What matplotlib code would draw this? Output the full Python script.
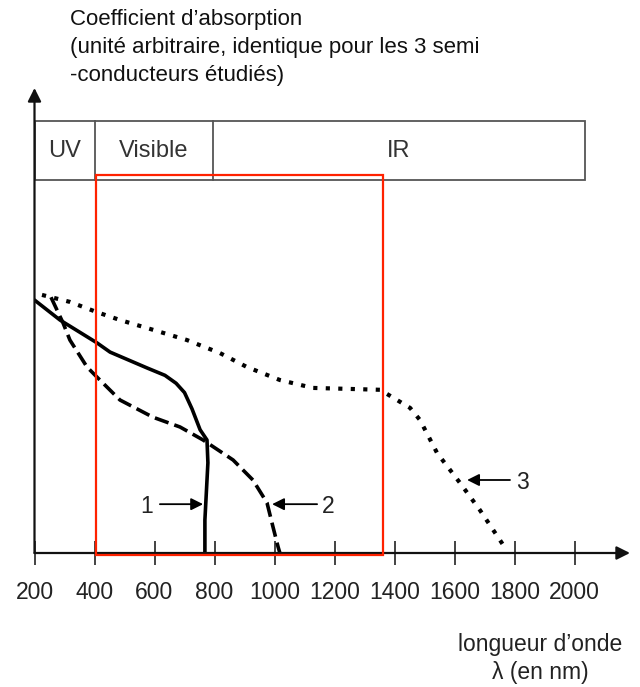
import numpy as np
import matplotlib
matplotlib.use("Agg")
import matplotlib.pyplot as plt
from matplotlib.patches import Rectangle

plt.rcParams['font.family'] = ['Liberation Sans', 'DejaVu Sans']

# courbe 1 (trait plein)
x1 = [200, 285, 408, 452, 575, 635, 672, 700, 725, 752, 775, 778, 772, 768, 768]
y1 = [5.44, 5.01, 4.52, 4.32, 3.98, 3.82, 3.65, 3.45, 3.10, 2.65, 2.43, 1.94, 1.20, 0.71, 0.0]
# courbe 2 (tirets)
x2 = [255, 295, 318, 375, 418, 485, 595, 685, 762, 862, 928, 975, 995, 1012, 1018]
y2 = [5.50, 4.95, 4.58, 4.00, 3.72, 3.29, 2.92, 2.71, 2.43, 2.00, 1.57, 1.08, 0.56, 0.13, 0.0]
# courbe 3 (pointillés)
x3 = [225, 318, 408, 485, 595, 708, 818, 908, 1018, 1128, 1242, 1352, 1452, 1485, 1542, 1618, 1685, 1775]
y3 = [5.55, 5.40, 5.18, 5.01, 4.80, 4.58, 4.30, 4.00, 3.72, 3.55, 3.53, 3.51, 3.12, 2.86, 2.15, 1.51, 0.92, 0.05]

xticks = [200, 400, 600, 800, 1000, 1200, 1400, 1600, 1800, 2000]
bands = ["UV", "Visible", "IR"]
band_edges = [200, 400, 795, 2035]

fig = plt.figure(figsize=(6.4, 6.87), dpi=100)
ax = fig.add_axes([34.5 / 640, 134 / 687, (630 - 34.5) / 640, 465 / 687])
ax.set_xlim(200, 2185)
ax.set_ylim(0, 10)
for s in ax.spines.values():
    s.set_visible(False)
ax.set_yticks([])
ax.set_xticks(xticks)
ax.tick_params(axis='x', direction='inout', length=17, width=1.2, pad=12,
               labelsize=16.5, colors='#222222')

# axes avec fleches
ax.annotate('', xy=(2185, 0), xytext=(200, 0),
            arrowprops=dict(arrowstyle='-|>', color='#111111', lw=1.6,
                            mutation_scale=20, shrinkA=0, shrinkB=0),
            annotation_clip=False)
ax.annotate('', xy=(200, 10), xytext=(200, 0),
            arrowprops=dict(arrowstyle='-|>', color='#111111', lw=1.6,
                            mutation_scale=20, shrinkA=0, shrinkB=0),
            annotation_clip=False)

# bandes UV / Visible / IR
ax.add_patch(Rectangle((band_edges[0], 8.02), band_edges[-1] - band_edges[0], 1.27,
                       fill=False, ec='#555555', lw=1.3, clip_on=False))
for i, name in enumerate(bands):
    if i > 0:
        ax.plot([band_edges[i], band_edges[i]], [8.02, 9.29], color='#555555', lw=1.3)
    ax.text((band_edges[i] + band_edges[i + 1]) / 2, 8.64, name, ha='center', va='center',
            fontsize=17, color='#333333')

# courbes
ax.plot(x1, y1, color='black', lw=2.6, solid_capstyle='round', solid_joinstyle='round')
ax.plot(x2, y2, color='black', lw=2.6, dashes=(4, 1.7))
ax.plot(x3, y3, color='black', lw=3.0, dashes=(1, 2.0))

# etiquettes des courbes
arrow_kw = dict(arrowstyle='-|>', color='black', lw=1.3, mutation_scale=18, shrinkA=0, shrinkB=0)
ax.annotate('', xy=(762, 1.05), xytext=(618, 1.05), arrowprops=arrow_kw)
ax.text(575, 1.0, '1', ha='center', va='center', fontsize=16.5, color='#222222')
ax.annotate('', xy=(992, 1.05), xytext=(1142, 1.05), arrowprops=arrow_kw)
ax.text(1180, 1.0, '2', ha='center', va='center', fontsize=16.5, color='#222222')
ax.annotate('', xy=(1642, 1.57), xytext=(1785, 1.57), arrowprops=arrow_kw)
ax.text(1827, 1.52, '3', ha='center', va='center', fontsize=16.5, color='#222222')

# cadre rouge
ax.add_patch(Rectangle((405, -0.04), 1362 - 405, 8.17, fill=False, ec='#ff2200', lw=1.6,
                       clip_on=False, zorder=5))

# textes
fig.text(70 / 640, 1 - 20 / 687, "Coefficient d’absorption", ha='left', va='center',
         fontsize=16, color='#111111')
fig.text(70 / 640, 1 - 47 / 687, "(unité arbitraire, identique pour les 3 semi", ha='left',
         va='center', fontsize=16, color='#111111')
fig.text(70 / 640, 1 - 75 / 687, "-conducteurs étudiés)", ha='left', va='center',
         fontsize=16, color='#111111')
fig.text(540 / 640, 1 - 644 / 687, "longueur d’onde", ha='center', va='center',
         fontsize=16.5, color='#222222')
fig.text(540 / 640, 1 - 672 / 687, "λ (en nm)", ha='center', va='center',
         fontsize=16.5, color='#222222')

fig.savefig('out.png', dpi=100, facecolor='white')
